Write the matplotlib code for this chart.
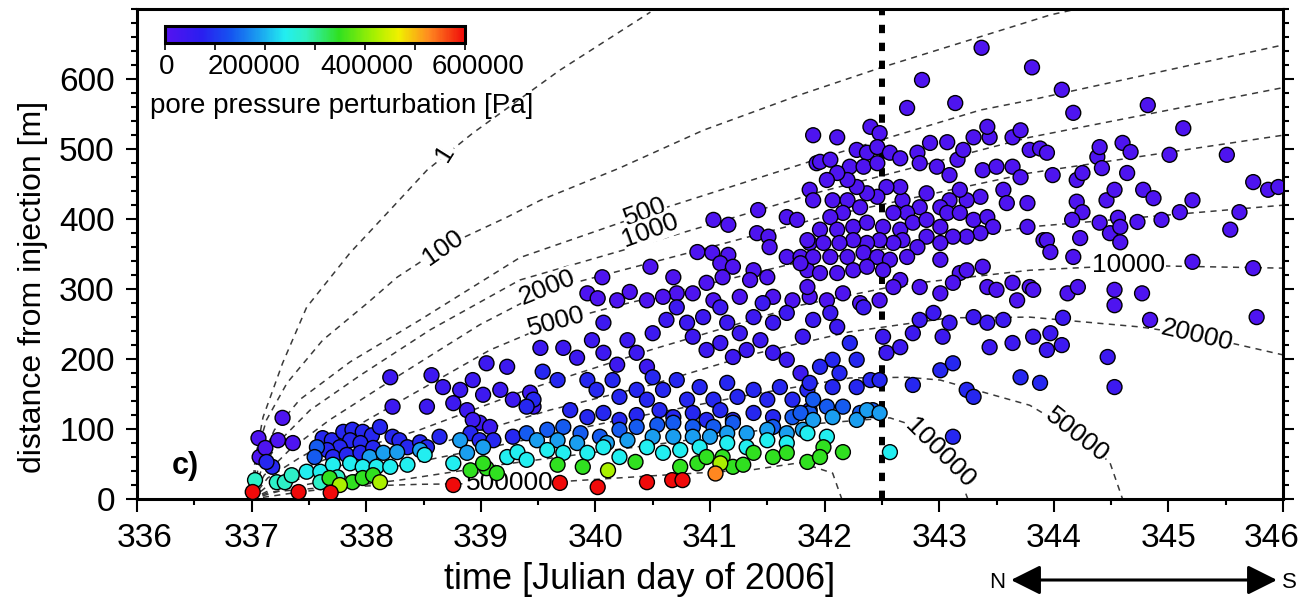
import matplotlib
matplotlib.use('Agg')
import matplotlib.pyplot as plt
import numpy as np
from matplotlib.colors import LinearSegmentedColormap, Normalize
from matplotlib.colorbar import ColorbarBase
from matplotlib.ticker import MultipleLocator, FixedLocator

plt.rcParams['font.family'] = ['Liberation Sans', 'DejaVu Sans']

p_violet = 12000
p_indigo = 42000
p_blue = 84000
p_mblue = 138000
p_lblue = 186000
p_cyan = 240000
p_aqua = 276000
p_green = 348000
p_lime = 420000
p_orange = 528000
p_red = 600000

# events: (time [Julian day], distance [m])
violet_ev = [
    (337.06, 87), (337.07, 60), (337.12, 73), (337.23, 84), (337.36, 80), (337.27, 116),
    (341.90, 520), (341.93, 480), (341.87, 442), (341.90, 427), (341.42, 413), (341.67, 403),
    (341.76, 399), (341.03, 399), (341.16, 392), (341.41, 380), (341.51, 375), (340.89, 353),
    (341.02, 352), (341.16, 349), (341.52, 360), (341.67, 346), (341.79, 346), (341.87, 366),
    (341.85, 327), (341.09, 337), (341.20, 332), (341.38, 327), (341.50, 317), (341.35, 313),
    (341.11, 317), (340.97, 309), (340.85, 294), (340.71, 294), (340.59, 289), (340.48, 332),
    (340.68, 317), (340.45, 284), (340.30, 296), (340.19, 284), (340.06, 317), (339.93, 294),
    (340.02, 287), (341.55, 289), (341.72, 284), (341.26, 289), (341.03, 284), (341.87, 289),
    (342.11, 517), (342.40, 532), (342.48, 523), (342.72, 559), (343.14, 566), (342.28, 499),
    (342.37, 495), (342.46, 503), (341.96, 482), (342.05, 485), (342.22, 475), (342.34, 475),
    (342.46, 480), (342.57, 495), (342.66, 487), (342.81, 495), (342.83, 480), (342.92, 509),
    (343.07, 510), (342.98, 475), (343.09, 463), (343.16, 485), (343.21, 499), (343.30, 517),
    (343.44, 517), (343.42, 532), (343.64, 517), (343.71, 527), (343.79, 499), (343.88, 501),
    (343.38, 470), (343.50, 475), (343.64, 475), (343.71, 460), (343.56, 442), (343.59, 423),
    (343.77, 423), (343.77, 389), (343.91, 370), (343.36, 432), (343.24, 427), (343.18, 442),
    (343.09, 427), (343.01, 417), (342.89, 437), (342.83, 417), (342.68, 427), (342.66, 446),
    (342.72, 409), (342.60, 409), (342.54, 446), (342.46, 432), (342.37, 437), (342.28, 446),
    (342.20, 456), (342.11, 466), (342.02, 456), (342.07, 427), (342.20, 427), (342.31, 417),
    (342.16, 409), (342.05, 403), (341.96, 385), (342.11, 385), (342.25, 389), (342.37, 395),
    (342.51, 389), (342.66, 385), (342.77, 395), (342.89, 399), (343.01, 389), (343.07, 409),
    (343.18, 409), (343.30, 399), (343.42, 403), (343.47, 389), (343.36, 380), (343.24, 375),
    (343.12, 375), (343.01, 366), (342.89, 375), (342.81, 360), (342.68, 370), (342.60, 366),
    (342.48, 370), (342.37, 366), (342.25, 370), (342.13, 366), (341.99, 366), (341.85, 370),
    (341.90, 346), (342.05, 346), (342.20, 346), (342.34, 352), (342.46, 346), (342.57, 342),
    (342.72, 346), (343.01, 342), (343.18, 323), (343.24, 327), (343.38, 332), (341.96, 323),
    (342.11, 323), (342.25, 327), (342.37, 332), (342.51, 327), (342.66, 313), (342.60, 303),
    (342.83, 303), (343.01, 294), (343.12, 309), (343.42, 303), (343.50, 299), (343.64, 309),
    (343.79, 303), (343.68, 284), (342.16, 294), (342.02, 284), (342.31, 280), (342.48, 284),
    (341.85, 303), (341.79, 337),
    (343.81, 617), (344.07, 585), (344.17, 552), (344.82, 563), (345.13, 530), (345.51, 492),
    (345.01, 492), (345.74, 453), (345.87, 442), (345.96, 446), (343.94, 495), (343.99, 463),
    (344.20, 456), (344.25, 466), (344.38, 489), (344.40, 503), (344.60, 509), (344.67, 496),
    (344.42, 473), (344.64, 466), (344.20, 425), (344.25, 410), (344.16, 399), (344.46, 427),
    (344.53, 442), (344.78, 442), (344.87, 430), (344.40, 395), (344.49, 380), (344.56, 402),
    (344.58, 389), (344.58, 367), (344.73, 396), (344.94, 399), (345.10, 410), (345.21, 427),
    (345.62, 410), (345.54, 385), (343.94, 370), (343.97, 353), (344.23, 373), (344.17, 346),
    (345.21, 339), (345.74, 330), (343.82, 299), (344.12, 294), (344.21, 303), (344.53, 299),
    (344.53, 277), (344.77, 294), (344.84, 256), (345.77, 260), (343.37, 645), (342.85, 599),
]
indigo_ev = [
    (338.21, 174), (338.23, 132), (338.53, 132), (338.57, 177), (338.67, 160), (338.82, 156),
    (338.93, 170), (339.05, 194), (339.23, 189), (339.02, 149), (338.76, 137), (338.88, 127),
    (339.17, 156), (339.28, 142), (339.43, 152), (339.46, 132), (338.99, 109), (339.08, 103),
    (338.93, 113),
    (339.52, 216), (339.72, 216), (339.84, 202), (340.07, 252), (339.97, 227), (340.07, 209),
    (340.19, 192), (340.28, 227), (340.36, 209), (340.45, 189), (340.50, 237), (340.62, 256),
    (340.71, 274), (340.80, 252), (340.85, 232), (340.94, 260), (341.09, 274), (341.15, 252),
    (341.26, 237), (341.38, 260), (341.46, 280), (341.55, 252), (341.67, 266), (341.81, 232),
    (341.90, 256), (340.97, 213), (341.09, 223), (341.20, 203), (341.32, 213), (341.44, 227),
    (341.55, 209), (341.67, 199), (341.79, 180),
    (342.05, 266), (342.11, 246), (342.34, 274), (342.51, 232), (342.54, 209), (342.66, 217),
    (342.77, 237), (342.83, 256), (342.95, 266), (343.03, 232), (343.09, 252), (343.30, 260),
    (343.42, 252), (343.56, 256), (343.44, 217), (343.64, 223), (343.82, 232), (343.94, 213),
    (344.08, 259), (343.97, 237), (344.07, 220), (344.47, 203), (344.53, 160),
]
blue_ev = [
    (337.62, 87), (337.70, 84), (337.80, 96), (337.88, 99), (337.97, 96), (338.05, 91),
    (338.12, 103), (337.86, 84), (337.95, 80), (337.77, 74), (337.66, 70), (337.71, 60),
    (337.83, 63), (337.95, 66), (338.06, 73), (338.23, 89), (338.29, 84), (338.36, 74),
    (338.47, 81), (338.53, 74), (338.64, 89), (337.18, 46), (337.13, 53), (338.91, 94),
    (338.99, 84), (339.11, 84), (339.28, 89),
    (339.54, 182), (339.67, 170), (339.46, 142), (339.40, 132), (339.93, 170), (340.01, 156),
    (340.15, 170), (340.21, 146), (340.36, 156), (340.45, 142), (340.50, 174), (340.59, 156),
    (340.71, 170), (340.80, 142), (340.91, 160), (341.03, 142), (341.15, 166), (341.24, 146),
    (341.38, 156), (341.50, 142), (341.61, 160), (341.72, 142), (341.85, 156), (339.78, 127),
    (339.93, 117), (340.07, 123), (340.21, 113), (340.36, 120), (340.56, 127), (340.68, 117),
    (340.85, 123), (340.97, 113), (341.09, 127), (341.20, 113), (341.38, 123), (341.55, 117),
    (341.87, 127), (341.87, 166), (342.07, 160), (342.28, 160), (342.40, 170), (342.48, 170),
    (342.77, 163), (343.24, 156), (343.30, 146), (343.01, 184), (343.12, 194), (343.71, 174),
    (343.88, 166), (342.07, 199), (341.96, 189), (342.13, 180), (342.22, 223), (342.28, 199),
    (343.12, 89),
]
mblue_ev = [
    (337.57, 74), (337.55, 60), (339.40, 94), (339.58, 99), (339.72, 103), (339.87, 94),
    (340.04, 89), (340.21, 99), (340.36, 103), (340.54, 106), (340.68, 109), (340.85, 103),
    (341.03, 103), (341.20, 109), (341.55, 103), (341.72, 117), (341.87, 123), (341.90, 142),
    (342.02, 132), (342.16, 132), (342.31, 123), (342.42, 127), (341.79, 123),
]
lblue_ev = [
    (338.03, 60), (338.15, 66), (338.27, 67), (338.47, 70), (338.82, 84), (338.88, 66),
    (339.02, 74), (339.49, 84), (339.67, 84), (339.84, 80), (340.10, 80), (340.28, 84),
    (340.50, 89), (340.68, 89), (340.85, 89), (341.00, 89), (341.15, 94), (341.32, 94),
    (341.50, 99), (341.67, 94), (341.81, 99), (341.90, 113), (342.07, 117), (342.28, 113),
    (342.37, 127), (342.48, 123),
]
cyan_ev = [
    (337.48, 39), (337.60, 39), (337.71, 49), (337.86, 51), (337.97, 46), (338.09, 46),
    (338.21, 46), (338.36, 49), (338.51, 63), (338.76, 51), (339.23, 60), (339.32, 67),
    (339.40, 56), (339.58, 70), (339.72, 66), (339.93, 66), (340.07, 74), (340.21, 60),
    (340.45, 74), (340.59, 66), (340.74, 70), (340.91, 74), (341.15, 80), (341.32, 74),
    (341.50, 84), (341.67, 80), (341.85, 94), (342.02, 89), (342.57, 67),
]
aqua_ev = [
    (337.22, 24), (337.29, 24), (337.60, 24), (337.75, 31), (337.35, 34), (337.03, 27),
]
green_ev = [
    (337.68, 30), (337.88, 24), (337.97, 30), (338.06, 34), (338.91, 41), (339.05, 44),
    (339.14, 37), (339.02, 51), (339.67, 49), (339.89, 46), (340.35, 53), (340.74, 46),
    (340.89, 51), (340.97, 60), (341.11, 60), (341.20, 46), (341.29, 49), (341.38, 66),
    (341.55, 60), (341.67, 66), (341.85, 53), (341.99, 74), (342.16, 67), (341.96, 60),
]
lime_ev = [(337.77, 20), (338.12, 24), (340.11, 41), (341.09, 51)]
orange_ev = [(341.04, 37)]
red_ev = [
    (337.01, 10), (337.41, 10), (337.69, 9), (338.76, 20), (339.69, 23), (340.02, 17),
    (340.45, 24), (340.67, 27), (340.76, 27),
]

groups = [
    (violet_ev, p_violet), (indigo_ev, p_indigo), (blue_ev, p_blue), (mblue_ev, p_mblue),
    (lblue_ev, p_lblue), (cyan_ev, p_cyan), (aqua_ev, p_aqua), (green_ev, p_green),
    (lime_ev, p_lime), (orange_ev, p_orange), (red_ev, p_red),
]

# modelled iso-pressure lines [Pa]: (time, distance)
contours = {
    1: [(337.00, 0), (337.03, 56), (337.10, 117), (337.27, 194), (337.48, 274), (337.86, 352),
        (338.23, 417), (338.53, 470), (338.93, 523), (339.69, 613), (340.48, 696)],
    100: [(337.00, 0), (337.06, 74), (337.13, 113), (337.31, 166), (337.62, 227), (338.01, 280),
          (338.27, 317), (338.67, 360), (339.23, 403), (339.52, 427), (340.21, 473),
          (340.94, 527), (341.79, 578), (342.48, 616), (343.97, 692), (344.19, 700)],
    500: [(337.00, 0), (337.07, 53), (337.20, 99), (337.42, 142), (337.86, 196), (338.47, 256),
          (339.34, 345), (340.43, 407), (341.96, 487), (343.36, 556), (343.79, 570), (346.0, 649)],
    1000: [(337.00, 0), (337.09, 44), (337.25, 84), (337.51, 127), (337.95, 177), (338.56, 242),
           (339.34, 313), (340.48, 367), (341.96, 439), (343.79, 517), (346.0, 588)],
    2000: [(337.00, 0), (337.11, 34), (337.33, 70), (337.68, 113), (338.29, 177), (338.99, 249),
           (339.58, 299), (340.91, 356), (341.96, 402), (343.79, 466), (346.0, 520)],
    5000: [(337.00, 0), (337.14, 30), (337.42, 59), (337.86, 99), (338.47, 156), (339.08, 213),
           (339.66, 253), (340.21, 277), (341.79, 339), (343.79, 389), (346.0, 420)],
    10000: [(337.00, 0), (337.20, 27), (337.68, 59), (338.47, 99), (339.40, 156), (340.48, 213),
            (341.79, 277), (342.66, 306), (343.79, 327), (344.65, 334), (346.0, 330)],
    20000: [(337.00, 0), (337.25, 20), (337.86, 52), (338.73, 84), (339.60, 127), (340.48, 163),
            (341.35, 206), (342.22, 239), (343.09, 259), (343.79, 260), (344.75, 246),
            (345.25, 234), (346.0, 206)],
    50000: [(337.00, 0), (337.34, 16), (338.12, 42), (339.17, 77), (340.21, 113), (341.35, 149),
            (342.22, 173), (342.72, 174), (343.01, 170), (343.79, 134), (344.20, 94),
            (344.49, 52), (344.60, 0)],
    100000: [(337.00, 0), (337.42, 10), (338.29, 27), (339.17, 49), (340.48, 77), (341.79, 106),
             (342.57, 116), (342.83, 102), (343.01, 70), (343.18, 30), (343.25, 0)],
    500000: [(337.00, 0), (337.16, 10), (337.68, 17), (338.47, 21), (339.52, 23), (340.48, 33),
             (341.38, 42), (341.79, 52), (342.07, 37), (342.15, 0)],
}
# label anchor (time, distance) and angle for each line
contour_labels = {
    1: (338.69, 495, 58), 100: (338.67, 359, 35), 500: (340.43, 410, 20),
    1000: (340.48, 384, 20), 2000: (339.58, 302, 22), 5000: (339.66, 253, 15),
    10000: (344.65, 334, 0), 20000: (345.25, 234, -13), 50000: (344.20, 92, -38),
    100000: (343.01, 66, -45), 500000: (339.25, 23, 0),
}
shut_in = 342.5
x_ticks = [336, 337, 338, 339, 340, 341, 342, 343, 344, 345, 346]
cb_ticks = [0, 200000, 400000, 600000]

cmap = LinearSegmentedColormap.from_list('pp', [
    (0.00, '#5512f0'), (0.12, '#2a1ef0'), (0.22, '#1555f0'), (0.31, '#1a9ef0'),
    (0.40, '#22eef0'), (0.47, '#30f0c0'), (0.58, '#30e020'), (0.70, '#a8f000'),
    (0.78, '#f0f000'), (0.88, '#ff8a20'), (1.00, '#f00a0a')])
norm = Normalize(0, 600000)

fig = plt.figure(figsize=(13.03, 6.0), dpi=100)
ax = fig.add_axes([137 / 1303, 101 / 600, 1146 / 1303, 489.7 / 600])

for lev, pts in contours.items():
    tt, dd = zip(*pts)
    ax.plot(tt, dd, color='#3a3a3a', lw=1.1, ls=(0, (4, 3.5)), zorder=1)
for lev, (lt, ld, rot) in contour_labels.items():
    ax.text(lt, ld, str(lev), rotation=rot, ha='center', va='center', fontsize=19,
            rotation_mode='anchor', zorder=2,
            bbox=dict(facecolor='white', edgecolor='none', pad=0.5))

ax.axvline(shut_in, color='black', lw=4.3, ls=(0, (1.4, 1.6)), zorder=2)

for ev, p in groups:
    tt, dd = zip(*ev)
    ax.scatter(tt, dd, c=[p] * len(tt), cmap=cmap, norm=norm, s=115,
               edgecolors='black', linewidths=1.0, zorder=3)

ax.set_xlim(336, 346)
ax.set_ylim(0, 700)
ax.set_xticks(x_ticks)
ax.xaxis.set_minor_locator(MultipleLocator(0.5))
ax.yaxis.set_major_locator(FixedLocator([0, 100, 200, 300, 400, 500, 600]))
ax.yaxis.set_minor_locator(MultipleLocator(20))
ax.tick_params(which='both', direction='out', width=1.5, right=True, labelright=False)
ax.tick_params(axis='x', which='major', length=9, labelbottom=False)
ax.tick_params(axis='y', which='major', length=8, pad=8, labelsize=24)
ax.tick_params(which='minor', length=4.5)
for sp in ax.spines.values():
    sp.set_linewidth(2.2)

# x tick labels, end ones nudged inwards as in the original
xtrans = ax.get_xaxis_transform()
for v in x_ticks:
    shift = 0.07 if v == x_ticks[0] else (-0.1 if v == x_ticks[-1] else 0)
    ax.text(v + shift, -0.049, str(v), transform=xtrans, ha='center', va='top', fontsize=24)

ax.set_xlabel('time [Julian day of 2006]', fontsize=26)
ax.xaxis.set_label_coords((640 - 137) / 1146, -0.128)
ax.set_ylabel('distance from injection [m]', fontsize=23)
ax.yaxis.set_label_coords(-0.078, 0.433)

ax.text(0.0305, 0.067, 'c)', transform=ax.transAxes, fontsize=22, fontweight='bold',
        ha='left', va='center', zorder=5)

# colour scale inset
cax = fig.add_axes([165 / 1303, 1 - 43 / 600, 300 / 1303, 17 / 600])
cb = ColorbarBase(cax, cmap=cmap, norm=norm, orientation='horizontal', ticks=cb_ticks)
cb.ax.xaxis.set_minor_locator(MultipleLocator(100000))
cb.ax.tick_params(which='both', direction='out', length=5, width=1.2, labelbottom=False)
cb.outline.set_linewidth(2.2)
cb_label_x = [167, 254, 367, 478]
for v, px in zip(cb_ticks, cb_label_x):
    fig.text(px / 1303, 1 - 67 / 600, str(v), ha='center', va='center', fontsize=20)
fig.text(342 / 1303, 1 - 106 / 600, 'pore pressure perturbation [Pa]', ha='center',
         va='center', fontsize=20)

# N-S orientation arrow
fig.text(997 / 1303, 1 - 582 / 600, 'N', ha='center', va='center', fontsize=16)
fig.text(1289 / 1303, 1 - 582 / 600, 'S', ha='center', va='center', fontsize=16)
ax.annotate('', xy=(1011 / 1303, 1 - 580 / 600), xytext=(1277 / 1303, 1 - 580 / 600),
            xycoords='figure fraction', textcoords='figure fraction',
            arrowprops=dict(arrowstyle='<|-|>,head_length=0.9,head_width=0.45', lw=2.2,
                            color='black', shrinkA=0, shrinkB=0, mutation_scale=20))

fig.savefig('out.png', dpi=100)
